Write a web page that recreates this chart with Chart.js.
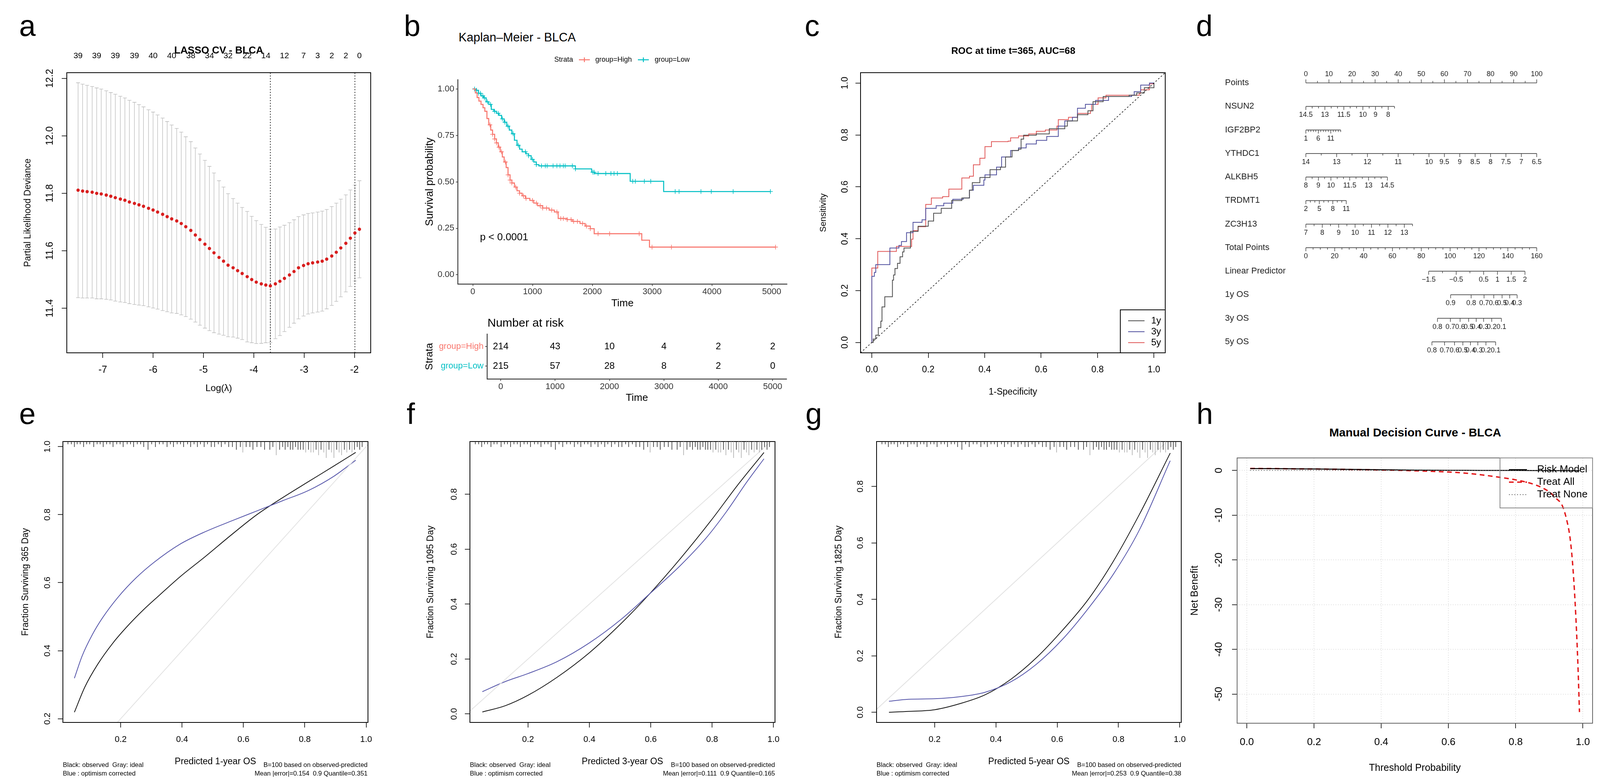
<!DOCTYPE html>
<html>
<head>
<meta charset="utf-8">
<title>BLCA risk model</title>
<script src="https://cdn.jsdelivr.net/npm/chart.js@4.4.1/dist/chart.umd.min.js"></script>
<style>
  html, body { margin: 0; padding: 0; background: #fff; }
  body { position: relative; width: 4124px; height: 2004px; overflow: hidden; font-family: "Liberation Sans", Arial, sans-serif; }
  canvas { position: absolute; }
  .t { position: absolute; white-space: pre; line-height: 1; color: #000; }
</style>
</head>
<body>
<script>
// ---------------- a: LASSO cross-validation ----------------
const logLambda = [-7.49,-7.40,-7.31,-7.21,-7.12,-7.03,-6.93,-6.84,-6.75,-6.65,
  -6.56,-6.47,-6.37,-6.28,-6.19,-6.09,-6.00,-5.91,-5.81,-5.72,
  -5.63,-5.53,-5.44,-5.35,-5.25,-5.16,-5.07,-4.97,-4.88,-4.79,
  -4.69,-4.60,-4.51,-4.41,-4.32,-4.23,-4.13,-4.04,-3.95,-3.85,
  -3.76,-3.67,-3.57,-3.48,-3.39,-3.29,-3.20,-3.11,-3.01,-2.92,
  -2.83,-2.73,-2.64,-2.55,-2.45,-2.36,-2.27,-2.17,-2.08,-1.99,-1.90];
const cvm = [11.811,11.808,11.806,11.804,11.800,11.798,11.794,11.790,11.785,11.780,
  11.776,11.770,11.765,11.760,11.755,11.748,11.742,11.735,11.727,11.719,
  11.711,11.704,11.695,11.684,11.671,11.655,11.639,11.623,11.608,11.593,
  11.577,11.564,11.550,11.541,11.531,11.521,11.510,11.500,11.491,11.485,
  11.481,11.478,11.485,11.494,11.504,11.516,11.528,11.541,11.549,11.555,
  11.558,11.561,11.564,11.571,11.582,11.595,11.610,11.626,11.644,11.662,11.675];
const cvsd = [0.374,0.372,0.370,0.368,0.367,0.365,0.363,0.361,0.360,0.358,
  0.356,0.354,0.352,0.349,0.346,0.343,0.341,0.338,0.335,0.331,
  0.327,0.322,0.318,0.313,0.309,0.303,0.298,0.292,0.286,0.278,
  0.267,0.258,0.249,0.241,0.235,0.230,0.227,0.220,0.214,0.207,
  0.201,0.197,0.191,0.189,0.185,0.182,0.180,0.178,0.176,0.175,
  0.174,0.174,0.174,0.173,0.172,0.171,0.170,0.169,0.168,0.167,0.169];
const lambdaMin = -3.67;
const lambda1se = -1.99;
const nonzeroAt = [-7.49,-7.12,-6.75,-6.37,-6.00,-5.63,-5.25,-4.88,-4.51,-4.13,-3.76,-3.39,-3.01,-2.73,-2.45,-2.17,-1.90];
const nonzeroCount = [39,39,39,39,40,40,38,34,32,22,14,12,7,3,2,2,0];
const aXTicks = [-7,-6,-5,-4,-3,-2];
const aYTicks = [11.4,11.6,11.8,12.0,12.2];
const aXLim = [-7.714,-1.676];
const aYLim = [11.245,12.220];

// ---------------- b: Kaplan-Meier ----------------
const kmGroups = ['group=High','group=Low'];
const highT = [0,43,73,103,138,172,202,237,267,301,331,366,396,426,460,495,525,559,590,624,654,697,740,783,826,882,955,1020,1084,1170,1278,1364,1429,1579,1665,1794,1880,1966,2031,2827,2956,5065];
const highS = [1,0.979,0.954,0.935,0.917,0.899,0.880,0.841,0.807,0.779,0.756,0.731,0.710,0.687,0.662,0.634,0.607,0.577,0.538,0.510,0.494,0.472,0.452,0.439,0.425,0.411,0.400,0.386,0.372,0.359,0.348,0.338,0.303,0.297,0.287,0.276,0.262,0.248,0.221,0.186,0.149,0.149];
const lowT = [0,52,95,138,181,224,267,310,353,396,439,482,525,568,611,654,697,740,783,826,891,934,977,1020,1063,1106,1717,1988,2040,2633,3193,4979];
const lowS = [1,0.993,0.977,0.963,0.952,0.931,0.917,0.890,0.880,0.869,0.858,0.839,0.821,0.800,0.779,0.759,0.724,0.697,0.676,0.662,0.651,0.641,0.621,0.607,0.593,0.586,0.570,0.552,0.545,0.503,0.448,0.448];
const highCens = [288,331,366,396,439,482,546,590,624,654,719,783,848,891,998,1063,1127,1170,1235,1321,1407,1472,1515,1579,1644,1687,1751,1837,1902,1966,2096,2289,2784,2999,3322,5065];
const lowCens = [30,65,99,129,168,194,245,297,366,426,495,538,589,675,761,882,934,998,1063,1149,1213,1244,1343,1407,1459,1515,1545,1665,1717,2009,2031,2096,2225,2311,2363,2419,2676,2719,2870,2977,3386,3451,3817,3989,4355,4979];
const kmTimes = [0,1000,2000,3000,4000,5000];
const kmYTicks = [0,0.25,0.5,0.75,1];
const kmXLim = [-250,5258];
const pLabel = 'p < 0.0001';
const riskHigh = [214,43,10,4,2,2];
const riskLow = [215,57,28,8,2,0];

// ---------------- c: time-dependent ROC ----------------
const roc1x = [0,0.005,0.014,0.023,0.032,0.036,0.046,0.068,0.073,0.077,0.082,0.091,0.10,0.109,0.114,0.137,0.137,0.164,0.2,0.219,0.246,0.283,0.319,0.346,0.356,0.383,0.419,0.456,0.474,0.497,0.52,0.529,0.538,0.583,0.629,0.684,0.693,0.729,0.766,0.784,0.82,0.912,0.939,0.966,1];
const roc1y = [0,0.013,0.028,0.057,0.082,0.137,0.176,0.176,0.24,0.26,0.285,0.305,0.33,0.349,0.364,0.364,0.428,0.448,0.468,0.498,0.517,0.547,0.557,0.587,0.616,0.636,0.666,0.676,0.715,0.74,0.745,0.784,0.799,0.804,0.824,0.834,0.854,0.878,0.893,0.928,0.948,0.953,0.962,0.982,1];
const roc3x = [0,0,0.009,0.014,0.064,0.064,0.096,0.105,0.123,0.146,0.146,0.178,0.191,0.228,0.255,0.287,0.324,0.346,0.36,0.397,0.401,0.442,0.46,0.492,0.52,0.547,0.583,0.62,0.661,0.684,0.711,0.729,0.757,0.793,0.839,0.921,0.93,0.953,0.984,1];
const roc3y = [0,0.255,0.27,0.30,0.305,0.364,0.374,0.389,0.423,0.423,0.463,0.473,0.517,0.527,0.537,0.552,0.557,0.587,0.606,0.626,0.646,0.676,0.715,0.74,0.75,0.765,0.779,0.794,0.834,0.854,0.868,0.903,0.918,0.933,0.948,0.953,0.967,0.992,1,1];
const roc5x = [0,0,0.021,0.021,0.064,0.087,0.141,0.146,0.164,0.191,0.191,0.211,0.251,0.273,0.273,0.319,0.319,0.346,0.36,0.383,0.383,0.401,0.401,0.424,0.483,0.492,0.52,0.556,0.583,0.615,0.656,0.661,0.697,0.729,0.775,0.779,0.802,0.83,0.921,0.948,0.953,0.984,1];
const roc5y = [0,0.287,0.287,0.351,0.351,0.37,0.398,0.431,0.446,0.446,0.532,0.557,0.562,0.567,0.591,0.591,0.634,0.641,0.685,0.685,0.71,0.71,0.755,0.774,0.776,0.789,0.796,0.804,0.814,0.819,0.834,0.859,0.868,0.883,0.893,0.918,0.943,0.953,0.953,0.96,0.974,0.997,1];
const rocLabels = ['1y','3y','5y'];
const rocTicks = [0,0.2,0.4,0.6,0.8,1];
const rocLim = [-0.04,1.04];

// ---------------- d: nomogram ----------------
const nomoRows = ['Points','NSUN2','IGF2BP2','YTHDC1','ALKBH5','TRDMT1','ZC3H13','Total Points','Linear Predictor','1y OS','3y OS','5y OS'];
const nomoRowAt = [0,1,2,3,4,5,6,7,8,9,10,11];
const pointsVals = [0,5,10,15,20,25,30,35,40,45,50,55,60,65,70,75,80,85,90,95,100];
const pointsLabels = [0,10,20,30,40,50,60,70,80,90,100];
const nsun2Vals = [14.5,14,13.5,13,12.5,12,11.5,11,10.5,10,9.5,9,8.5,8,7.5];
const nsun2Labels = [14.5,13,11.5,10,9,8];
const igf2bp2Vals = [1,2,3,4,5,6,7,8,9,10,11,12,13,14,15];
const igf2bp2Labels = [1,6,11];
const ythdc1Vals = [14,13.5,13,12.5,12,11.5,11,10.5,10,9.5,9,8.5,8,7.5,7,6.5];
const ythdc1Labels = [14,13,12,11,10,9.5,9,8.5,8,7.5,7,6.5];
const alkbh5Vals = [8,8.5,9,9.5,10,10.5,11,11.5,12,12.5,13,13.5,14,14.5];
const alkbh5Labels = [8,9,10,11.5,13,14.5];
const trdmt1Vals = [2,3,4,5,6,7,8,9,10,11];
const trdmt1Labels = [2,5,8,11];
const zc3h13Vals = [7,7.5,8,8.5,9,9.5,10,10.5,11,11.5,12,12.5,13,13.5];
const zc3h13Labels = [7,8,9,10,11,12,13];
const totalVals = [0,5,10,15,20,25,30,35,40,45,50,55,60,65,70,75,80,85,90,95,100,105,110,115,120,125,130,135,140,145,150,155,160];
const totalLabels = [0,20,40,60,80,100,120,140,160];
const lpVals = [-1.5,-1,-0.5,0,0.5,1,1.5,2];
const lpLabels = [-1.5,-0.5,0.5,1,1.5,2];
// points reached at the first and last value of each linear axis
const pointsSpan = [0,100];
const nsun2Span = [0,38.4];
const igf2bp2Span = [0,15.1];
const ythdc1Span = [0,100];
const alkbh5Span = [0,35.3];
const trdmt1Span = [0,17.5];
const zc3h13Span = [0,46.2];
const totalSpan = [0,100];
const lpSpan = [53.2,94.9];
const os1Vals = [0.9,0.8,0.7,0.6,0.5,0.4,0.3];
const os1Pts = [62.7,71.6,77.2,81.4,85.0,88.3,91.5];
const os3Vals = [0.8,0.7,0.6,0.5,0.4,0.3,0.2,0.1];
const os3Pts = [57.0,62.6,66.8,70.5,73.8,77.0,80.5,84.7];
const os5Vals = [0.8,0.7,0.6,0.5,0.4,0.3,0.2,0.1];
const os5Pts = [54.6,60.1,64.4,68.0,71.3,74.5,78.0,82.2];

// ---------------- e/f/g: calibration ----------------
const calXTicks = [0.2,0.4,0.6,0.8,1.0];
const cal1ObsX = [0.049,0.083,0.125,0.175,0.225,0.275,0.326,0.393,0.476,0.560,0.644,0.728,0.812,0.895,0.966];
const cal1ObsY = [0.219,0.293,0.360,0.423,0.475,0.521,0.563,0.617,0.677,0.740,0.800,0.850,0.897,0.943,0.983];
const cal1CorX = [0.049,0.074,0.108,0.141,0.192,0.250,0.309,0.393,0.476,0.560,0.644,0.728,0.812,0.895,0.966];
const cal1CorY = [0.319,0.384,0.448,0.497,0.558,0.614,0.660,0.713,0.750,0.781,0.811,0.841,0.871,0.913,0.960];
const cal3ObsX = [0.051,0.126,0.200,0.294,0.399,0.504,0.596,0.696,0.797,0.881,0.969];
const cal3ObsY = [0.007,0.030,0.068,0.133,0.222,0.330,0.437,0.565,0.705,0.830,0.952];
const cal3CorX = [0.051,0.126,0.200,0.294,0.399,0.504,0.596,0.696,0.780,0.847,0.914,0.969];
const cal3CorY = [0.081,0.118,0.147,0.190,0.258,0.345,0.437,0.540,0.640,0.737,0.846,0.929];
const cal5X = [0.051,0.114,0.200,0.281,0.365,0.449,0.533,0.617,0.701,0.784,0.868,0.969];
const cal5ObsY = [0.000,0.003,0.009,0.030,0.062,0.117,0.194,0.290,0.399,0.536,0.700,0.918];
const cal5CorY = [0.039,0.046,0.048,0.055,0.071,0.108,0.171,0.258,0.367,0.490,0.645,0.891];
// spike histogram of predicted survival along the top edge
const rugX = [0.028,0.039,0.049,0.058,0.068,0.079,0.089,0.099,0.112,0.123,
  0.133,0.143,0.154,0.165,0.175,0.187,0.198,0.208,0.221,0.232,
  0.242,0.254,0.265,0.275,0.289,0.301,0.313,0.326,0.338,0.351,
  0.362,0.372,0.384,0.395,0.405,0.418,0.428,0.439,0.450,0.460,
  0.472,0.483,0.495,0.506,0.518,0.528,0.540,0.552,0.564,0.577,
  0.590,0.598,0.609,0.621,0.631,0.644,0.657,0.669,0.686,0.696,
  0.707,0.718,0.728,0.736,0.745,0.753,0.761,0.770,0.778,0.786,
  0.795,0.803,0.812,0.820,0.828,0.837,0.845,0.853,0.862,0.870,
  0.879,0.887,0.895,0.904,0.912,0.920,0.929,0.937,0.946,0.954,
  0.962,0.971,0.979,0.987];
const rugN = [1,1,2,1,1,2,1,1,2,1,
  1,2,1,1,2,1,1,2,1,1,
  2,1,1,2,3,1,2,1,1,2,
  1,2,1,1,2,1,2,1,2,1,
  2,1,2,2,1,2,1,2,2,3,
  2,4,2,2,3,2,2,3,3,2,
  5,3,2,3,2,3,3,2,3,3,
  3,4,3,4,4,3,5,3,4,6,
  3,4,6,3,4,5,3,4,3,4,
  3,2,3,2];

// ---------------- h: decision curve ----------------
const dcaX = [0.01,0.05,0.1,0.15,0.2,0.25,0.3,0.35,0.4,0.45,0.5,0.55,0.6,0.65,0.7,0.75,0.8,0.85,0.88,0.9,0.92,0.939,0.954,0.962,0.969,0.977,0.985,0.99];
const riskModel = [0.42,0.41,0.39,0.36,0.33,0.29,0.25,0.20,0.15,0.11,0.08,0.05,0.03,0.02,0.01,0,0,-0.01,-0.02,-0.02,-0.03,-0.03,-0.04,-0.04,-0.05,-0.05,-0.06,-0.06];
const treatAll = [0.45,0.43,0.40,0.36,0.33,0.28,0.23,0.17,0.10,0.02,-0.08,-0.20,-0.35,-0.60,-1.0,-1.5,-2.1,-3.0,-3.9,-4.8,-6.2,-7.9,-11.7,-15.1,-20.3,-29.5,-42.7,-54];
const treatNoneX = [0.01,0.99];
const treatNoneY = [0,0];
const dcaLabels = ['Risk Model','Treat All','Treat None'];
const dcaXTicks = [0,0.2,0.4,0.6,0.8,1];
const dcaYTicks = [0,-10,-20,-30,-40,-50];
const dcaXLim = [-0.029,1.029];
const dcaYLim = [-56.5,2.8];

// ---------------- styling ----------------
const FONT = '"Liberation Sans", Arial, sans-serif';
const kmHigh = '#F8766D', kmLow = '#00BFC4';
const rocColors = ['#4d4d4d', '#50509e', '#e05858'];
const calBlack = '#151515', calBlue = '#5656aa', idealGray = '#e2e2e2';

Chart.defaults.font.family = FONT;
Chart.defaults.color = '#000';
Chart.defaults.animation = false;
Chart.defaults.events = [];
Chart.defaults.plugins.legend.display = false;
Chart.defaults.plugins.tooltip.enabled = false;

const pairs = (xs, ys) => xs.map((x, i) => ({ x, y: ys[i] }));

function canvasAt(x, y, w, h) {
  const c = document.createElement('canvas');
  c.width = w; c.height = h;
  c.style.left = x + 'px'; c.style.top = y + 'px';
  c.style.width = w + 'px'; c.style.height = h + 'px';
  document.body.appendChild(c);
  return c;
}

function text(str, x, y, size, opt = {}) {
  const d = document.createElement('div');
  d.className = 't';
  d.textContent = str;
  const tx = opt.align === 'left' ? '0' : opt.align === 'right' ? '-100%' : '-50%';
  d.style.left = x + 'px';
  d.style.top = y + 'px';
  d.style.fontSize = size + 'px';
  d.style.fontWeight = opt.bold ? 'bold' : 'normal';
  d.style.transform = `translate(${tx},-50%)`;
  if (opt.color) d.style.color = opt.color;
  document.body.appendChild(d);
}

// an R-like axis whose box size is fixed, so the plot area lands where it should
function rAxis(position, lim, ticks, size, o) {
  const vertical = position === 'left' || position === 'right';
  const rotate = vertical && o.rotate;
  return {
    type: 'linear',
    axis: vertical ? 'y' : 'x',
    position,
    min: lim[0],
    max: lim[1],
    reverse: !!o.reverse,
    afterBuildTicks: s => { s.ticks = ticks.map(v => ({ value: v })); },
    afterFit: s => {
      if (vertical) s.width = size; else s.height = size;
      s.paddingLeft = s.paddingRight = s.paddingTop = s.paddingBottom = 0;
    },
    grid: {
      display: true,
      drawOnChartArea: !!o.grid,
      drawTicks: (o.tick || 0) > 0,
      tickLength: o.tick || 0,
      color: o.gridColor || '#000',
      lineWidth: 1.5,
      tickColor: o.tickColor || '#000',
      tickWidth: 1.6
    },
    border: { display: !!o.line, color: o.lineColor || '#000', width: 2.2, dash: o.dash || [] },
    ticks: {
      autoSkip: false,
      padding: o.pad || 0,
      font: { size: o.size },
      color: o.colors ? (ctx => o.colors[ctx.index]) : (o.color || '#000'),
      minRotation: rotate ? 90 : 0,
      maxRotation: rotate ? 90 : 0,
      crossAlign: rotate ? 'center' : (o.cross || 'near'),
      callback: o.labels ? ((v, i) => o.labels[i]) : (v => v.toFixed(o.dec || 0))
    },
    title: {
      display: !!o.title, text: o.title, color: '#000',
      font: { size: o.tsize }, padding: { top: o.tpad || 0, bottom: o.tpad || 0 }
    }
  };
}

function baseOptions(padding, scales) {
  return { responsive: false, devicePixelRatio: 1, animation: false, layout: { padding }, scales, plugins: {} };
}

function framePlugin(color) {
  return {
    id: 'frame',
    afterDatasetsDraw(chart) {
      const a = chart.chartArea, c = chart.ctx;
      c.save();
      c.strokeStyle = color || '#000';
      c.lineWidth = 2;
      c.strokeRect(a.left, a.top, a.right - a.left, a.bottom - a.top);
      c.restore();
    }
  };
}

// text written at the position of each point of a dataset
const pointTextPlugin = {
  id: 'pointText',
  afterDatasetsDraw(chart) {
    const c = chart.ctx;
    chart.data.datasets.forEach((ds, i) => {
      if (!ds.pointText) return;
      c.save();
      c.font = ds.textFont;
      c.fillStyle = ds.textColor || '#000';
      c.textAlign = ds.textAlign || 'center';
      c.textBaseline = 'middle';
      chart.getDatasetMeta(i).data.forEach((pt, j) => c.fillText(ds.pointText[j], pt.x, pt.y));
      c.restore();
    });
  }
};

// boxed legend in a corner of the plot, the way base R draws it
function boxLegend(items, o) {
  return {
    id: 'boxLegend',
    afterDraw(chart) {
      const a = chart.chartArea, c = chart.ctx;
      const left = a.right - o.w;
      const top = o.corner === 'top' ? a.top : a.bottom - o.h;
      c.save();
      c.strokeStyle = o.frame; c.lineWidth = 2;
      c.strokeRect(left, top, o.w, o.h);
      c.font = `${o.size}px ${FONT}`;
      c.textBaseline = 'middle'; c.textAlign = 'left';
      items.forEach((it, i) => {
        const y = top + o.row0 + i * o.step;
        c.strokeStyle = it.color; c.lineWidth = it.width; c.setLineDash(it.dash || []);
        c.beginPath(); c.moveTo(left + o.x0, y); c.lineTo(left + o.x1, y); c.stroke();
        c.setLineDash([]);
        c.fillStyle = '#000';
        c.fillText(it.label, left + o.tx, y);
      });
      c.restore();
    }
  };
}

function survAt(times, surv, t) {
  let s = surv[0];
  for (let i = 0; i < times.length; i++) if (times[i] <= t) s = surv[i];
  return s;
}

// ================= a =================
new Chart(canvasAt(0, 100, 1000, 930), {
  type: 'line',
  data: {
    datasets: [
      { data: pairs(logLambda, cvm), showLine: false, pointRadius: 4.2, pointBackgroundColor: '#d81e1e', pointBorderWidth: 0 },
      { data: [{ x: lambdaMin, y: aYLim[0] }, { x: lambdaMin, y: aYLim[1] }], borderColor: '#000', borderWidth: 1.5, borderDash: [3, 4], pointRadius: 0 },
      { data: [{ x: lambda1se, y: aYLim[0] }, { x: lambda1se, y: aYLim[1] }], borderColor: '#000', borderWidth: 1.5, borderDash: [3, 4], pointRadius: 0 }
    ]
  },
  options: baseOptions({ left: 0, top: 0, right: 51, bottom: 0 }, {
    x: rAxis('bottom', aXLim, aXTicks, 127, { tick: 13, pad: 16, size: 25, dec: 0, title: 'Log(λ)', tsize: 24, tpad: 21 }),
    top: rAxis('top', aXLim, nonzeroAt, 86, { pad: 30, size: 21, labels: nonzeroCount }),
    y: rAxis('left', aYLim, aYTicks, 171, { tick: 13, pad: 6, size: 25, dec: 1, rotate: true, title: 'Partial Likelihood Deviance', tsize: 23, tpad: 58 })
  }),
  plugins: [framePlugin(), {
    id: 'errorBars',
    beforeDatasetsDraw(chart) {
      const xs = chart.scales.x, ys = chart.scales.y, c = chart.ctx;
      c.save();
      c.strokeStyle = '#b9b9b9'; c.lineWidth = 1.3;
      logLambda.forEach((v, i) => {
        const px = xs.getPixelForValue(v);
        const lo = ys.getPixelForValue(cvm[i] - cvsd[i]);
        const hi = ys.getPixelForValue(cvm[i] + cvsd[i]);
        c.beginPath();
        c.moveTo(px, lo); c.lineTo(px, hi);
        c.moveTo(px - 5, lo); c.lineTo(px + 5, lo);
        c.moveTo(px - 5, hi); c.lineTo(px + 5, hi);
        c.stroke();
      });
      c.restore();
    }
  }]
});

// ================= b: curves =================
new Chart(canvasAt(1040, 130, 990, 670), {
  type: 'line',
  data: {
    datasets: [
      { data: pairs(highT, highS), stepped: true, borderColor: kmHigh, borderWidth: 2.6, pointRadius: 0 },
      { data: pairs(lowT, lowS), stepped: true, borderColor: kmLow, borderWidth: 2.6, pointRadius: 0 },
      { data: highCens.map(t => ({ x: t, y: survAt(highT, highS, t) })), showLine: false, pointStyle: 'cross', pointRadius: 6, pointBorderColor: kmHigh, pointBorderWidth: 1.6 },
      { data: lowCens.map(t => ({ x: t, y: survAt(lowT, lowS, t) })), showLine: false, pointStyle: 'cross', pointRadius: 6, pointBorderColor: kmLow, pointBorderWidth: 1.6 },
      { data: [{ x: 120, y: 0.2 }], showLine: false, pointRadius: 0, pointText: [pLabel], textFont: `26px ${FONT}`, textAlign: 'left' }
    ]
  },
  options: baseOptions({ left: 0, top: 74, right: 15, bottom: 0 }, {
    x: rAxis('bottom', kmXLim, kmTimes, 73, { tick: 5, pad: 2, size: 22, dec: 0, color: '#333', tickColor: '#333', line: true, lineColor: '#333', title: 'Time', tsize: 26, tpad: 8 }),
    y: rAxis('left', [-0.05, 1.05], kmYTicks, 132, { tick: 5, pad: 4, size: 22, dec: 2, color: '#333', tickColor: '#333', line: true, lineColor: '#333', title: 'Survival probability', tsize: 27, tpad: 44 })
  }),
  plugins: [pointTextPlugin, {
    id: 'kmLegend',
    afterDraw(chart) {
      const c = chart.ctx, y = 23;
      c.save();
      c.font = `18px ${FONT}`; c.fillStyle = '#000'; c.textBaseline = 'middle'; c.textAlign = 'left';
      c.fillText('Strata', 379, y);
      [[kmHigh, 442, kmGroups[0], 484], [kmLow, 593, kmGroups[1], 636]].forEach(([col, x0, lab, tx]) => {
        c.strokeStyle = col; c.lineWidth = 2.5;
        c.beginPath();
        c.moveTo(x0, y); c.lineTo(x0 + 28, y);
        c.moveTo(x0 + 14, y - 6); c.lineTo(x0 + 14, y + 6);
        c.stroke();
        c.fillText(lab, tx, y);
      });
      c.restore();
    }
  }]
});

// ================= b: number at risk =================
new Chart(canvasAt(1040, 810, 990, 230), {
  type: 'line',
  data: {
    datasets: [
      { data: kmTimes.map(t => ({ x: t, y: 1 })), showLine: false, pointRadius: 0, pointText: riskHigh.map(String), textFont: `24px ${FONT}` },
      { data: kmTimes.map(t => ({ x: t, y: 0 })), showLine: false, pointRadius: 0, pointText: riskLow.map(String), textFont: `24px ${FONT}` }
    ]
  },
  options: baseOptions({ left: 0, top: 45, right: 16, bottom: 0 }, {
    x: rAxis('bottom', kmXLim, kmTimes, 70, { tick: 5, pad: 2, size: 22, dec: 0, color: '#333', tickColor: '#333', line: true, lineColor: '#333', title: 'Time', tsize: 26, tpad: 6 }),
    y: rAxis('left', [-0.66, 1.64], [1, 0], 207, { tick: 5, pad: 4, size: 22, labels: kmGroups, colors: [kmHigh, kmLow], tickColor: '#333', line: true, lineColor: '#333', title: 'Strata', tsize: 26, tpad: 44 })
  }),
  plugins: [pointTextPlugin]
});

// ================= c =================
new Chart(canvasAt(2070, 100, 960, 930), {
  type: 'line',
  data: {
    datasets: [
      { data: rocLim.map(v => ({ x: v, y: v })), borderColor: '#000', borderWidth: 1.5, borderDash: [4, 5], pointRadius: 0 },
      { data: pairs(roc1x, roc1y), stepped: true, borderColor: rocColors[0], borderWidth: 2, pointRadius: 0 },
      { data: pairs(roc3x, roc3y), stepped: true, borderColor: rocColors[1], borderWidth: 2, pointRadius: 0 },
      { data: pairs(roc5x, roc5y), stepped: true, borderColor: rocColors[2], borderWidth: 2, pointRadius: 0 }
    ]
  },
  options: baseOptions({ left: 0, top: 86, right: 47, bottom: 0 }, {
    x: rAxis('bottom', rocLim, rocTicks, 127, { tick: 13, pad: 17, size: 23, dec: 1, title: '1-Specificity', tsize: 23, tpad: 13 }),
    y: rAxis('left', rocLim, rocTicks, 133, { tick: 13, pad: 10, size: 23, dec: 1, rotate: true, title: 'Sensitivity', tsize: 22, tpad: 25 })
  }),
  plugins: [framePlugin(), boxLegend(
    rocLabels.map((l, i) => ({ label: l, color: rocColors[i], width: 2 })),
    { corner: 'bottom', w: 115, h: 110, x0: 20, x1: 62, tx: 79, row0: 28, step: 28, size: 24, frame: '#000' })]
});

// ================= d =================
function linearRow(vals, labels, span, above) {
  const a = vals[0], b = vals[vals.length - 1];
  return { vals, labels, above, pts: vals.map(v => span[0] + (v - a) / (b - a) * (span[1] - span[0])) };
}
const nomo = [
  linearRow(pointsVals, pointsLabels, pointsSpan, true),
  linearRow(nsun2Vals, nsun2Labels, nsun2Span),
  linearRow(igf2bp2Vals, igf2bp2Labels, igf2bp2Span),
  linearRow(ythdc1Vals, ythdc1Labels, ythdc1Span),
  linearRow(alkbh5Vals, alkbh5Labels, alkbh5Span),
  linearRow(trdmt1Vals, trdmt1Labels, trdmt1Span),
  linearRow(zc3h13Vals, zc3h13Labels, zc3h13Span),
  linearRow(totalVals, totalLabels, totalSpan),
  linearRow(lpVals, lpLabels, lpSpan),
  { vals: os1Vals, labels: os1Vals, pts: os1Pts },
  { vals: os3Vals, labels: os3Vals, pts: os3Pts },
  { vals: os5Vals, labels: os5Vals, pts: os5Pts }
];
const nomoNum = v => (v < 0 ? '\u2212' + (-v) : String(v));

new Chart(canvasAt(3110, 150, 970, 770), {
  type: 'line',
  data: {
    datasets: nomo.map((r, row) => ({
      data: [{ x: Math.min(...r.pts), y: row }, { x: Math.max(...r.pts), y: row }],
      borderColor: row === 0 ? '#777' : '#444', borderWidth: row === 0 ? 2.4 : 1.6, pointRadius: 0
    }))
  },
  options: baseOptions({ left: 26, top: 32, right: 80, bottom: 15 }, {
    // x range chosen so that 0 and 100 points fall under the reference marks
    x: { type: 'linear', min: -7.2758, max: 111.168, display: false },
    y: rAxis('left', [-0.5, 11.5], nomoRowAt, 164, { size: 22, cross: 'far', reverse: true, color: '#222', labels: nomoRows })
  }),
  plugins: [{
    id: 'nomoTicks',
    afterDatasetsDraw(chart) {
      const xs = chart.scales.x, ys = chart.scales.y, c = chart.ctx;
      c.save();
      c.strokeStyle = '#444'; c.fillStyle = '#222'; c.lineWidth = 1.5;
      c.font = `18px ${FONT}`; c.textAlign = 'center'; c.textBaseline = 'middle';
      nomo.forEach((r, row) => {
        const y = ys.getPixelForValue(row);
        const dir = r.above ? -1 : 1;
        r.vals.forEach((v, j) => {
          const px = xs.getPixelForValue(r.pts[j]);
          const major = r.labels.includes(v);
          c.beginPath(); c.moveTo(px, y); c.lineTo(px, y + dir * (major ? 9 : 5)); c.stroke();
          if (major) c.fillText(nomoNum(v), px, y + dir * 22);
        });
      });
      c.restore();
    }
  }]
});

// ================= e / f / g =================
const rugPlugin = {
  id: 'rug',
  afterDatasetsDraw(chart) {
    const xs = chart.scales.x, top = chart.chartArea.top, c = chart.ctx;
    c.save();
    c.lineWidth = 1.5;
    rugX.forEach((v, i) => {
      c.strokeStyle = rugN[i] >= 4 ? '#a8a8a8' : '#222';
      const px = xs.getPixelForValue(v);
      c.beginPath(); c.moveTo(px, top); c.lineTo(px, top + rugN[i] * 7); c.stroke();
    });
    c.restore();
  }
};

function calibration(box, yAxisW, rightPad, xlim, ylim, yticks, obsX, obsY, corX, corY, xTitle, yTitle, yPad, yTitlePad) {
  return new Chart(canvasAt(box[0], box[1], box[2], box[3]), {
    type: 'line',
    data: {
      datasets: [
        { data: xlim.map(v => ({ x: v, y: v })), borderColor: idealGray, borderWidth: 2, pointRadius: 0 },
        { data: pairs(corX, corY), borderColor: calBlue, borderWidth: 2, pointRadius: 0, cubicInterpolationMode: 'monotone' },
        { data: pairs(obsX, obsY), borderColor: calBlack, borderWidth: 2, pointRadius: 0, cubicInterpolationMode: 'monotone' }
      ]
    },
    options: baseOptions({ left: 0, top: 30, right: rightPad, bottom: 0 }, {
      x: rAxis('bottom', xlim, calXTicks, 141, { tick: 13, pad: 18, size: 22, dec: 1, title: xTitle, tsize: 23, tpad: 27 }),
      y: rAxis('left', ylim, yticks, yAxisW, { tick: 13, pad: yPad, size: 22, dec: 1, rotate: true, title: yTitle, tsize: 23, tpad: yTitlePad })
    }),
    plugins: [framePlugin(), rugPlugin]
  });
}

calibration([0, 1100, 1000, 890], 161, 58, [0.0115, 1.006], [0.189, 1.015], [0.2, 0.4, 0.6, 0.8, 1.0],
  cal1ObsX, cal1ObsY, cal1CorX, cal1CorY, 'Predicted 1-year OS', 'Fraction Surviving 365 Day', 11, 52);
calibration([1031, 1100, 1000, 890], 172, 47, [0.0105, 1.005], [-0.031, 0.992], [0, 0.2, 0.4, 0.6, 0.8],
  cal3ObsX, cal3ObsY, cal3CorX, cal3CorY, 'Predicted 3-year OS', 'Fraction Surviving 1095 Day', 12, 58);
calibration([2062, 1100, 1000, 890], 182, 38, [0.0105, 1.005], [-0.036, 0.959], [0, 0.2, 0.4, 0.6, 0.8],
  cal5X, cal5ObsY, cal5X, cal5CorY, 'Predicted 5-year OS', 'Fraction Surviving 1825 Day', 13, 72);

// ================= h =================
const dcaStyles = [
  { color: '#000', width: 2.5, dash: [] },
  { color: '#e31a1c', width: 3.5, dash: [12, 9] },
  { color: '#555', width: 2, dash: [2, 5] }
];
new Chart(canvasAt(3030, 1150, 1080, 845), {
  type: 'line',
  data: {
    datasets: [
      { data: pairs(treatNoneX, treatNoneY), borderColor: dcaStyles[2].color, borderWidth: dcaStyles[2].width, borderDash: dcaStyles[2].dash, pointRadius: 0 },
      { data: pairs(dcaX, riskModel), borderColor: dcaStyles[0].color, borderWidth: dcaStyles[0].width, pointRadius: 0 },
      { data: pairs(dcaX, treatAll), borderColor: dcaStyles[1].color, borderWidth: dcaStyles[1].width, borderDash: dcaStyles[1].dash, pointRadius: 0, cubicInterpolationMode: 'monotone' }
    ]
  },
  options: baseOptions({ left: 0, top: 22, right: 33, bottom: 0 }, {
    x: rAxis('bottom', dcaXLim, dcaXTicks, 144, { tick: 13, pad: 20, size: 26, dec: 1, grid: true, gridColor: '#d6d6d6', dash: [2, 4], title: 'Threshold Probability', tsize: 25, tpad: 14 }),
    y: rAxis('left', dcaYLim, dcaYTicks, 137, { tick: 13, pad: 14, size: 26, dec: 0, rotate: true, grid: true, gridColor: '#d6d6d6', dash: [2, 4], title: 'Net Benefit', tsize: 26, tpad: 13 })
  }),
  plugins: [framePlugin('#666'), boxLegend(
    dcaLabels.map((l, i) => ({ label: l, color: dcaStyles[i].color, width: dcaStyles[i].width, dash: dcaStyles[i].dash })),
    { corner: 'top', w: 237, h: 128, x0: 23, x1: 69, tx: 95, row0: 30, step: 32, size: 26, frame: '#888' })]
});

// ================= titles, panel letters, notes =================
text('LASSO CV - BLCA', 560, 128, 26, { bold: true });
text('Kaplan–Meier - BLCA', 1174, 95, 31, { align: 'left' });
text('Number at risk', 1248, 826, 30, { align: 'left' });
text('ROC at time t=365, AUC=68', 2594, 130, 24.5, { bold: true });
text('Manual Decision Curve - BLCA', 3623, 1107, 30, { bold: true });

[['a', 49, 66], ['b', 1034, 66], ['c', 2060, 66], ['d', 3062, 66],
 ['e', 49, 1059], ['f', 1041, 1059], ['g', 2062, 1059], ['h', 3063, 1059]]
  .forEach(([l, x, y]) => text(l, x, y, 76, { align: 'left' }));

[[161, 941, '0.154', '0.351'], [1203, 1984, '0.111', '0.165'], [2244, 3024, '0.253', '0.38']]
  .forEach(([l, r, err, q]) => {
    text('Black: observed  Gray: ideal', l, 1957, 16.5, { align: 'left' });
    text('Blue : optimism corrected', l, 1979, 16.5, { align: 'left' });
    text('B=100 based on observed-predicted', r, 1957, 16.5, { align: 'right' });
    text(`Mean |error|=${err}  0.9 Quantile=${q}`, r, 1979, 16.5, { align: 'right' });
  });
</script>
</body>
</html>
